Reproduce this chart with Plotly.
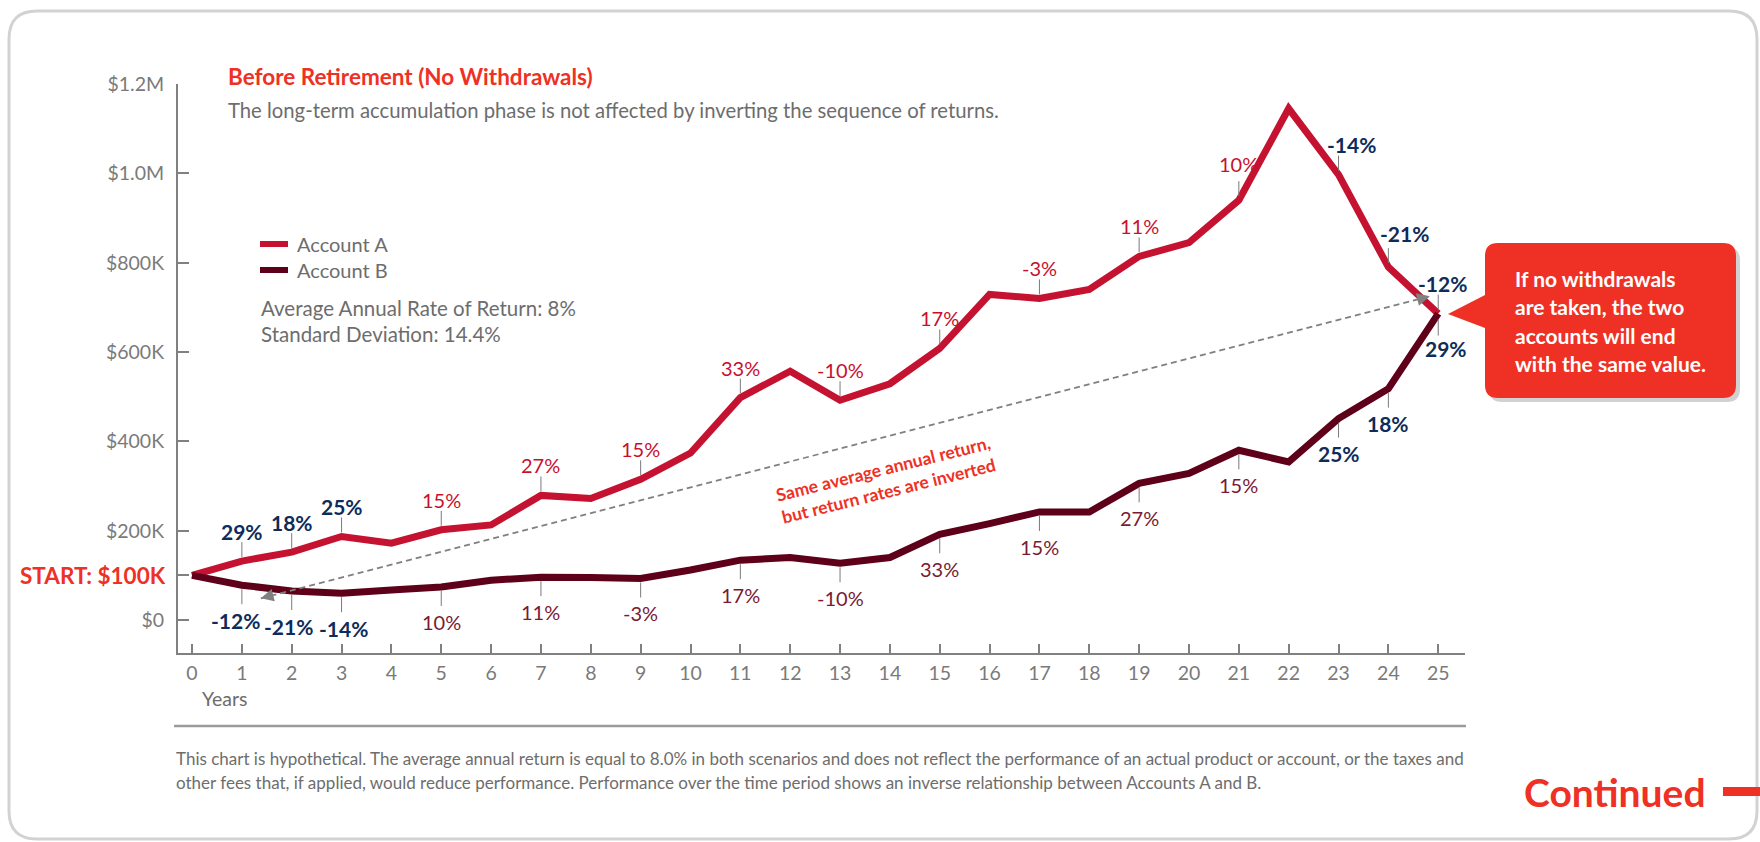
import plotly.graph_objects as go

# ---------------- data ----------------
years = list(range(26))
account_a = [100000, 132000, 152000, 187000, 172000, 202000, 213000, 279000, 272000, 315000,
             374000, 498000, 557000, 492000, 529000, 608000, 729000, 720000, 740000, 814000,
             845000, 940000, 1145000, 997000, 790000, 686000]
account_b = [100000, 78000, 65000, 60000, 67000, 74000, 89000, 96000, 95000, 93000,
             112000, 134000, 140000, 127000, 140000, 192000, 216000, 242000, 242000, 306000,
             328000, 380000, 354000, 451000, 518000, 686000]

label_years = [1, 2, 3, 5, 7, 9, 11, 13, 15, 17, 19, 21, 23, 24, 25]
a_returns = ["29%", "18%", "25%", "15%", "27%", "15%", "33%", "-10%", "17%", "-3%", "11%", "10%", "-14%", "-21%", "-12%"]
b_returns = ["-12%", "-21%", "-14%", "10%", "11%", "-3%", "17%", "-10%", "33%", "15%", "27%", "15%", "25%", "18%", "29%"]
highlight_years = [1, 2, 3, 23, 24, 25]

y_tick_vals = [0, 200000, 400000, 600000, 800000, 1000000, 1200000]
y_tick_text = ["$0", "$200K", "$400K", "$600K", "$800K", "$1.0M", "$1.2M"]
start_value = 100000
start_text = "START: $100K"

arrow_start = (1.38, 48500)
arrow_end = (24.83, 724800)

# ---------------- style ----------------
FONT = "Lato"
RED = "#EE3124"
A_COLOR = "#C41230"
B_COLOR = "#5E0019"
A_LABEL = "#C8102E"
B_LABEL = "#7A1A33"
NAVY = "#0E2C5A"
GRAY = "#7a7a7a"
TEXT_GRAY = "#6d6d6d"

W, H = 1760, 842
L, R, T, B = 178, 1465, 84, 653
X_RANGE = [-0.281, 25.537]
Y_RANGE = [-73800, 1200000]


def px(x):
    return (x - L) / (R - L)


def py(y):
    return (B - y) / (B - T)


def ppath(points):
    out = []
    for cmd, pts in points:
        if cmd == "Z":
            out.append("Z")
            continue
        coords = " ".join(f"{px(x):.5f},{py(y):.5f}" for x, y in pts)
        out.append(f"{cmd}{coords}")
    return " ".join(out)


def rounded(x0, y0, x1, y1, r, pointer=None):
    pts = [("M", [(x0 + r, y0)]),
           ("L", [(x1 - r, y0)]), ("Q", [(x1, y0), (x1, y0 + r)]),
           ("L", [(x1, y1 - r)]), ("Q", [(x1, y1), (x1 - r, y1)]),
           ("L", [(x0 + r, y1)]), ("Q", [(x0, y1), (x0, y1 - r)])]
    if pointer:
        (ya, tip, yb) = pointer
        pts += [("L", [(x0, yb)]), ("L", [tip]), ("L", [(x0, ya)])]
    pts += [("L", [(x0, y0 + r)]), ("Q", [(x0, y0), (x0 + r, y0)]), ("Z", [])]
    return ppath(pts)


def note(x, y, text, size, color, xanchor="left", bold=False, **kw):
    return dict(x=px(x), y=py(y), xref="paper", yref="paper", xanchor=xanchor, yanchor="middle",
                text=f"<b>{text}</b>" if bold else text, showarrow=False,
                font=dict(family=FONT, size=size, color=color), **kw)


fig = go.Figure()
fig.add_trace(go.Scatter(x=years, y=account_a, mode="lines",
                         line=dict(color=A_COLOR, width=7), name="Account A", hoverinfo="skip"))
fig.add_trace(go.Scatter(x=years, y=account_b, mode="lines",
                         line=dict(color=B_COLOR, width=7), name="Account B", hoverinfo="skip"))

shapes = []
annotations = []

# card border
shapes.append(dict(type="path", xref="paper", yref="paper", path=rounded(9, 11, 1757, 839, 28),
                   line=dict(color="#D2D2D2", width=3), fillcolor="rgba(0,0,0,0)", layer="below"))

# return labels with leader lines
x_shift_a = {23: 13, 24: 16, 25: 4}
y_shift_a = {21: 36, 24: 34}
x_shift_b = {25: 8, 1: -6, 2: -3, 3: 2}
for yr, ta, tb in zip(label_years, a_returns, b_returns):
    hl = yr in highlight_years
    va = account_a[yr]
    vb = account_b[yr]
    shapes.append(dict(type="line", xref="x", yref="y", ysizemode="pixel", yanchor=va,
                       x0=yr, x1=yr, y0=4, y1=19, line=dict(color=GRAY, width=1)))
    annotations.append(dict(x=yr, y=va, xref="x", yref="y", text=f"<b>{ta}</b>" if hl else ta,
                            showarrow=False, xanchor="center", yanchor="middle",
                            yshift=y_shift_a.get(yr, 30), xshift=x_shift_a.get(yr, 0),
                            font=dict(family=FONT, size=21 if hl else 20, color=NAVY if hl else A_LABEL)))
    lo, hi = (-6, -22) if yr == 25 else (-4, -19)
    shapes.append(dict(type="line", xref="x", yref="y", ysizemode="pixel", yanchor=vb,
                       x0=yr, x1=yr, y0=lo, y1=hi, line=dict(color=GRAY, width=1)))
    annotations.append(dict(x=yr, y=vb, xref="x", yref="y", text=f"<b>{tb}</b>" if hl else tb,
                            showarrow=False, xanchor="center", yanchor="middle",
                            yshift=-35, xshift=x_shift_b.get(yr, 0),
                            font=dict(family=FONT, size=21 if hl else 20, color=NAVY if hl else B_LABEL)))

# dashed arrow between accounts
shapes.append(dict(type="line", xref="x", yref="y", x0=arrow_start[0], y0=arrow_start[1],
                   x1=arrow_end[0], y1=arrow_end[1], line=dict(color="#808080", width=1.8, dash="6px,4px")))
ppx = (R - L) / (X_RANGE[1] - X_RANGE[0])
ppy = (B - T) / (Y_RANGE[1] - Y_RANGE[0])
dxp = (arrow_end[0] - arrow_start[0]) * ppx
dyp = -(arrow_end[1] - arrow_start[1]) * ppy
ln = (dxp ** 2 + dyp ** 2) ** 0.5
ux, uy = dxp / ln, dyp / ln
for (tx, ty), sgn in ((arrow_end, -1), (arrow_start, 1)):
    annotations.append(dict(x=tx, y=ty, xref="x", yref="y", text="", showarrow=True,
                            ax=sgn * ux * 14, ay=sgn * uy * 14, arrowhead=2, arrowsize=1.6,
                            arrowwidth=1.6, arrowcolor="#808080"))

annotations.append(dict(x=px(886), y=py(480), xref="paper", yref="paper", xanchor="center", yanchor="middle",
                        text="<b>Same average annual return,<br>but return rates are inverted</b>",
                        showarrow=False, textangle=-14, align="center",
                        font=dict(family=FONT, size=17.5, color=RED)))

# callout
call_path = rounded(1485, 243, 1736, 398, 13, pointer=(295, (1448, 314), 328))
shadow_path = rounded(1489, 247, 1740, 402, 13)
shapes.append(dict(type="path", xref="paper", yref="paper", path=shadow_path,
                   fillcolor="rgba(0,0,0,0.18)", line=dict(width=0)))
shapes.append(dict(type="path", xref="paper", yref="paper", path=call_path,
                   fillcolor=RED, line=dict(width=0)))
call_lines = ["If no withdrawals", "are taken, the two", "accounts will end", "with the same value."]
for i, t in enumerate(call_lines):
    annotations.append(note(1513, 278 + i * 28.5, t, 21, "white", bold=True))

# titles
annotations.append(note(226, 77, "Before Retirement (No Withdrawals)", 22.5, RED, bold=True))
annotations.append(note(226, 110, "The long-term accumulation phase is not affected by inverting the sequence of returns.",
                        20.3, TEXT_GRAY))

# legend
for yy, col, name in ((244, A_COLOR, "Account A"), (270, B_COLOR, "Account B")):
    shapes.append(dict(type="line", xref="paper", yref="paper", x0=px(260), x1=px(288), y0=py(yy), y1=py(yy),
                       line=dict(color=col, width=6)))
    annotations.append(note(295, yy, name, 20, TEXT_GRAY))
for yy, t in ((308, "Average Annual Rate of Return: 8%"), (334, "Standard Deviation: 14.4%")):
    annotations.append(note(259, yy, t, 20.5, TEXT_GRAY))

# start label
annotations.append(dict(x=px(168), y=start_value, xref="paper", yref="y", xanchor="right", yanchor="middle",
                        text=f"<b>{start_text}</b>", showarrow=False, font=dict(family=FONT, size=22.5, color=RED)))

# years label
annotations.append(note(200, 698, "Years", 19.5, TEXT_GRAY))

# rule and footnote
shapes.append(dict(type="line", xref="paper", yref="paper", x0=px(174), x1=px(1466), y0=py(726), y1=py(726),
                   line=dict(color="#9a9a9a", width=2.5)))
foot = ["This chart is hypothetical. The average annual return is equal to 8.0% in both scenarios and does not reflect the performance of an actual product or account, or the taxes and",
        "other fees that, if applied, would reduce performance. Performance over the time period shows an inverse relationship between Accounts A and B."]
for i, t in enumerate(foot):
    annotations.append(note(174, 758 + i * 24, t, 17, TEXT_GRAY))

# continued
annotations.append(note(1708, 792, "Continued", 39, RED, xanchor="right", bold=True))
shapes.append(dict(type="rect", xref="paper", yref="paper", x0=px(1723), x1=px(1762), y0=py(787), y1=py(796),
                   fillcolor=RED, line=dict(width=0)))

fig.update_layout(
    width=W, height=H,
    margin=dict(l=L, r=W - R, t=T, b=H - B, pad=0),
    paper_bgcolor="white", plot_bgcolor="white",
    showlegend=False, hovermode=False,
    font=dict(family=FONT, color=TEXT_GRAY),
    shapes=shapes, annotations=annotations,
    xaxis=dict(range=X_RANGE, tickvals=years, ticktext=[str(y) for y in years],
               ticks="inside", ticklen=9, tickwidth=1.5, tickcolor="#808080",
               showline=True, linecolor="#808080", linewidth=2, showgrid=False, zeroline=False,
               tickfont=dict(family=FONT, size=19.5, color="#7a7a7a"), ticklabelstandoff=2),
    yaxis=dict(range=Y_RANGE, tickvals=y_tick_vals + [start_value], ticktext=y_tick_text + [""],
               ticks="inside", ticklen=11, tickwidth=2, tickcolor="#808080",
               showline=True, linecolor="#808080", linewidth=2, showgrid=False, zeroline=False,
               tickfont=dict(family=FONT, size=19.5, color="#7a7a7a"), ticklabelstandoff=8),
)

fig.write_html("out.html", config={"displayModeBar": False},
               post_script="document.body.style.margin='0px';document.body.style.overflow='hidden';")
